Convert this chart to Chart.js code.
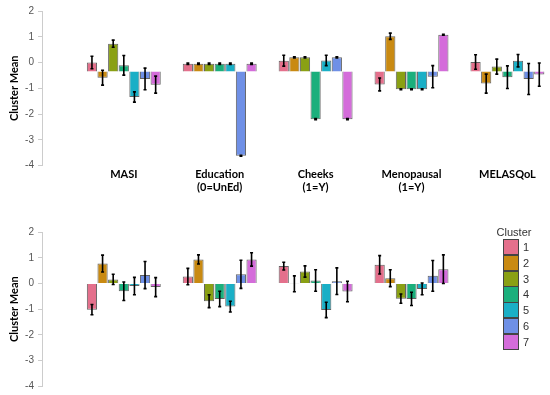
<!DOCTYPE html>
<html><head><meta charset="utf-8">
<script src="https://cdn.jsdelivr.net/npm/chart.js@4"></script>
<style>
body{margin:0;background:#fff;width:550px;height:395px;overflow:hidden;position:relative;font-family:"Liberation Sans",Arial,sans-serif;}
#topc{position:absolute;left:0;top:0}
#botc{position:absolute;left:0;top:200px}
#legend{position:absolute;left:0;top:0;width:550px;height:395px;pointer-events:none}
.lt{position:absolute;font-size:11px;color:#333;}
.sw{position:absolute;box-sizing:border-box;border:1px solid #444;}
.ll{position:absolute;font-size:11px;color:#333;line-height:14px;}
</style></head><body>
<canvas id="topc" width="550" height="200"></canvas>
<canvas id="botc" width="550" height="198"></canvas>
<div id="legend"></div>
<script>
// ---------- DATA ----------
const clusters = ["1","2","3","4","5","6","7"];
const clusterColors = ["#E4708C","#C98A12","#8AA014","#1BAF7C","#1AAFC6","#6F90E6","#D46CDA"];
const yTicks = [-4,-3,-2,-1,0,1,2];

const topCategories = ["MASI", ["Education","(0=UnEd)"], ["Cheeks","(1=Y)"], ["Menopausal","(1=Y)"], "MELASQoL"];
const masiMean  = [0.00, -0.59, 0.73, -0.11, -1.34, -0.64, -0.86];
const masiErr   = [0.24, 0.29, 0.14, 0.38, 0.20, 0.42, 0.33];
const eduMean   = [-0.05, -0.05, -0.05, -0.05, -0.05, -3.62, -0.05];
const eduErr    = [0.03, 0.03, 0.03, 0.03, 0.03, 0.02, 0.03];
const cheeksMean= [0.07, 0.20, 0.20, -2.20, 0.08, 0.20, -2.20];
const cheeksErr = [0.21, 0.02, 0.02, 0.02, 0.20, 0.02, 0.02];
const menoMean  = [-0.85, 1.02, -1.04, -1.04, -1.04, -0.55, 1.08];
const menoErr   = [0.25, 0.12, 0.02, 0.02, 0.02, 0.43, 0.02];
const melasMean = [0.02, -0.82, -0.16, -0.57, 0.07, -0.64, -0.47];
const melasErr  = [0.28, 0.37, 0.29, 0.44, 0.24, 0.60, 0.45];

const botCategories = ["Children", "Age", "SunExposure", "HowLongSuffer"];
const childMean = [-1.02, 0.78, 0.16, -0.30, -0.10, 0.33, -0.14];
const childErr  = [0.20, 0.33, 0.20, 0.36, 0.34, 0.53, 0.37];
const ageMean   = [0.27, 0.94, -0.69, -0.60, -0.90, 0.36, 0.94];
const ageErr    = [0.32, 0.18, 0.25, 0.30, 0.21, 0.55, 0.26];
const sunMean   = [0.68, -0.01, 0.47, 0.12, -1.03, 0.09, -0.31];
const sunErr    = [0.15, 0.31, 0.22, 0.42, 0.30, 0.52, 0.40];
const hlsMean   = [0.73, 0.21, -0.59, -0.60, -0.21, 0.30, 0.56];
const hlsErr    = [0.36, 0.33, 0.18, 0.26, 0.23, 0.60, 0.56];

const topBase = -0.35;  // top panel bars hang from this level
// ---------------------------

const topMeans = [masiMean, eduMean, cheeksMean, menoMean, melasMean];
const topErrs  = [masiErr, eduErr, cheeksErr, menoErr, melasErr];
const botMeans = [childMean, ageMean, sunMean, hlsMean];
const botErrs  = [childErr, ageErr, sunErr, hlsErr];

const X_MIN = -0.853, X_MAX = 4.444;

const errorBars = {
  id: 'errorBars',
  afterDatasetsDraw(chart) {
    const ctx = chart.ctx, ys = chart.scales.y;
    ctx.save();
    ctx.strokeStyle = '#000';
    ctx.lineWidth = 1.6;
    chart.data.datasets.forEach((ds, di) => {
      const meta = chart.getDatasetMeta(di);
      meta.data.forEach((el, i) => {
        const v = ds.data[i].y, e = ds.errors[i];
        const y1 = ys.getPixelForValue(v + e), y2 = ys.getPixelForValue(v - e);
        const x = el.x;
        ctx.beginPath();
        ctx.moveTo(x, y1); ctx.lineTo(x, y2);
        ctx.moveTo(x - 1.5, y1); ctx.lineTo(x + 1.5, y1);
        ctx.moveTo(x - 1.5, y2); ctx.lineTo(x + 1.5, y2);
        ctx.stroke();
      });
    });
    ctx.restore();
  }
};

function makeDatasets(means, errs, base) {
  return clusters.map((c, k) => {
    const ds = {
      label: c,
      data: means.map((m, i) => ({x: i, y: m[k]})),
      errors: errs.map(e => e[k]),
      backgroundColor: clusterColors[k],
      borderColor: 'rgba(70,70,70,0.85)',
      borderWidth: 1,
      barPercentage: 0.96,
      categoryPercentage: 0.775
    };
    if (base !== undefined) ds.base = base;
    return ds;
  });
}

function makeOptions(labels, padTop, xHeight, tickPad) {
  return {
    responsive: false,
    animation: false,
    devicePixelRatio: 1,
    layout: {padding: {top: padTop, left: 0, right: 0, bottom: 0}},
    plugins: {legend: {display: false}, tooltip: {enabled: false}},
    scales: {
      x: {
        type: 'linear', min: X_MIN, max: X_MAX, offset: false,
        grid: {display: false, drawTicks: false},
        border: {display: false},
        afterBuildTicks: s => { s.ticks = labels.map((_, i) => ({value: i})); },
        afterFit: s => { s.height = xHeight; },
        ticks: {
          autoSkip: false, maxRotation: 0, minRotation: 0, padding: tickPad,
          color: '#000', font: {family: 'Lato', weight: 'bold', size: 11, lineHeight: 1.2},
          callback: (v, i) => labels[i]
        }
      },
      y: {
        min: -4, max: 2,
        afterBuildTicks: s => { s.ticks = yTicks.map(v => ({value: v})); },
        afterFit: s => { s.width = 42; },
        ticks: {color: '#555', font: {family: 'Liberation Sans', size: 10}, padding: 4},
        grid: {drawOnChartArea: false, drawTicks: true, tickLength: 4, color: '#ccc'},
        border: {display: true, color: '#ccc'},
        title: {display: true, text: 'Cluster Mean', color: '#000',
                font: {family: 'Lato', weight: 'bold', size: 11}, padding: {top: 8, bottom: 0}}
      }
    }
  };
}

new Chart(document.getElementById('topc'), {
  type: 'bar',
  data: {datasets: makeDatasets(topMeans, topErrs, topBase)},
  options: makeOptions(topCategories, 11, 34.5, 2),
  plugins: [errorBars]
});

new Chart(document.getElementById('botc'), {
  type: 'bar',
  data: {datasets: makeDatasets(botMeans, botErrs)},
  options: makeOptions(botCategories, 32.3, 12, -16),
  plugins: [errorBars]
});

// legend
const lg = document.getElementById('legend');
const t = document.createElement('div');
t.className = 'lt'; t.textContent = 'Cluster';
t.style.left = '496px'; t.style.top = '226px'; t.style.width = '36px'; t.style.textAlign = 'center';
lg.appendChild(t);
clusters.forEach((c, k) => {
  const top = 239.3 + k * 15.7;
  const s = document.createElement('div');
  s.className = 'sw';
  s.style.left = '502.5px'; s.style.top = top + 'px';
  s.style.width = '16px'; s.style.height = '16.2px';
  s.style.background = clusterColors[k];
  lg.appendChild(s);
  const l = document.createElement('div');
  l.className = 'll'; l.textContent = c;
  l.style.left = '523px'; l.style.top = (top + 1) + 'px';
  lg.appendChild(l);
});
</script>
</body></html>
